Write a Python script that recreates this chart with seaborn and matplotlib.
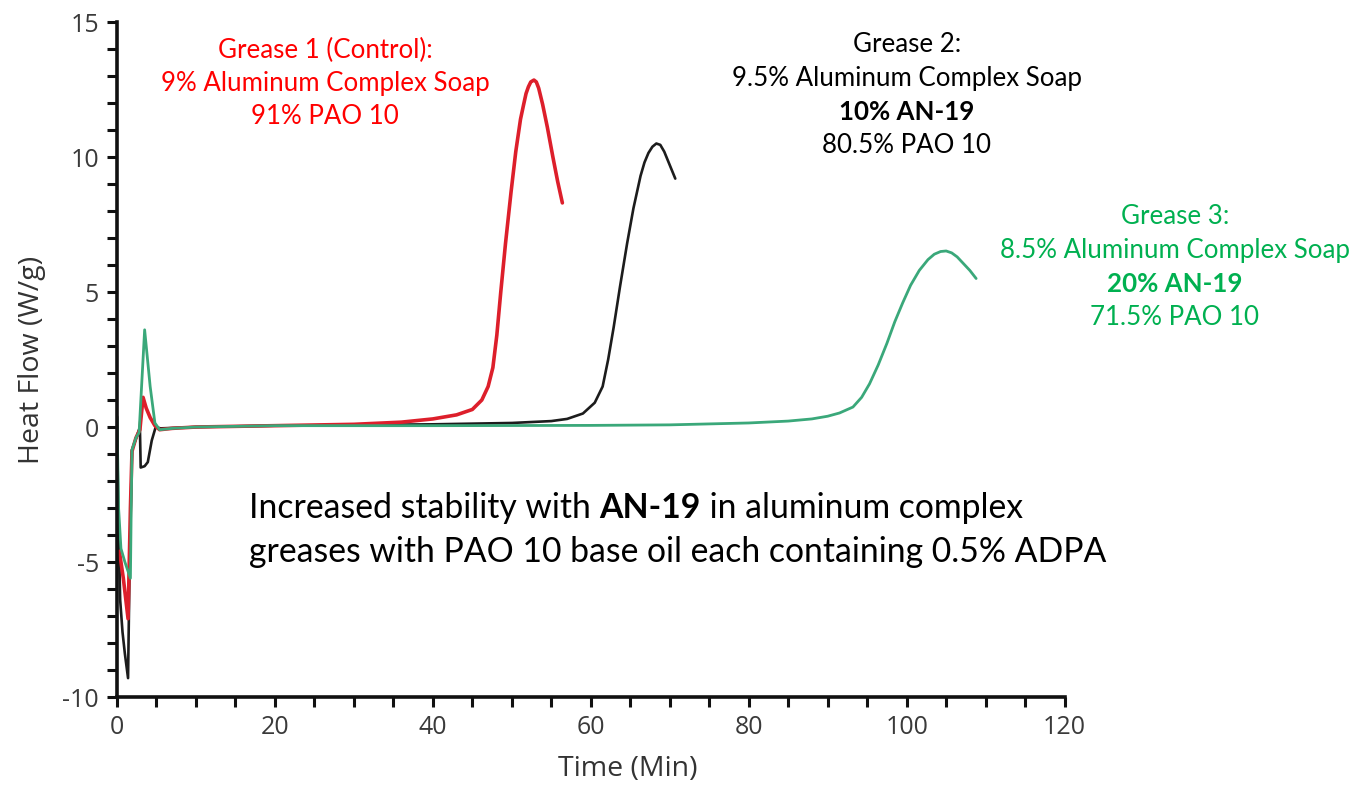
import matplotlib
matplotlib.use('Agg')
import matplotlib.pyplot as plt
import pandas as pd
import seaborn as sns
from matplotlib.ticker import MultipleLocator

# Data (time in min, heat flow in W/g)
g1_time = [0.3, 0.8, 1.4, 1.7, 1.9, 2.4, 2.9, 3.3, 3.7, 4.2, 4.8, 5.4, 7, 10, 20, 30, 36, 40, 43, 45,
           46.2, 47.0, 47.6, 48.1, 48.6, 49.2, 49.9, 50.5, 51.1, 51.5, 51.8, 52.1, 52.4, 52.8, 53.1,
           53.4, 53.9, 54.5, 55.2, 55.8, 56.4]
g1_flow = [-4.6, -5.6, -7.1, -3.0, -0.9, -0.4, -0.1, 1.1, 0.7, 0.35, 0.05, -0.1, -0.05, 0.0, 0.05,
           0.1, 0.18, 0.3, 0.45, 0.65, 1.0, 1.5, 2.2, 3.4, 5.0, 6.8, 8.7, 10.2, 11.4, 11.95, 12.35,
           12.6, 12.78, 12.85, 12.78, 12.55, 11.95, 11.1, 10.0, 9.1, 8.3]

g2_time = [0.0, 0.15, 0.4, 0.7, 1.0, 1.4, 1.6, 1.9, 2.5, 2.9, 3.0, 3.5, 3.9, 4.4, 4.9, 5.5, 10, 20,
           40, 50, 55, 57, 59, 60.5, 61.5, 62.2, 62.9, 63.7, 64.6, 65.4, 66.3, 66.8, 67.3, 67.8,
           68.3, 68.8, 69.3, 70.0, 70.7]
g2_flow = [0.4, -3.0, -6.4, -7.6, -8.4, -9.3, -5.0, -0.85, -0.35, 0.0, -1.5, -1.45, -1.3, -0.5, 0.0,
           -0.05, 0.0, 0.05, 0.1, 0.15, 0.22, 0.3, 0.5, 0.9, 1.5, 2.5, 3.7, 5.2, 6.8, 8.1, 9.3,
           9.8, 10.15, 10.38, 10.5, 10.45, 10.2, 9.7, 9.2]

g3_time = [0.0, 0.2, 0.5, 1.0, 1.7, 1.8, 1.9, 2.4, 2.8, 3.5, 4.2, 4.8, 5.4, 7, 10, 20, 40, 60, 70,
           80, 85, 88, 90, 91.5, 93.2, 94.3, 95.3, 96.4, 97.5, 98.5, 99.5, 100.5, 101.6, 102.7,
           103.5, 104.3, 105.0, 105.7, 106.4, 107.2, 108.0, 108.8]
g3_flow = [0.35, -3.0, -4.5, -5.0, -5.6, -3.0, -0.85, -0.4, -0.2, 3.6, 1.5, 0.15, -0.1, -0.05, 0.0,
           0.05, 0.05, 0.06, 0.08, 0.15, 0.22, 0.3, 0.4, 0.52, 0.74, 1.1, 1.6, 2.3, 3.1, 3.9, 4.6,
           5.25, 5.8, 6.2, 6.4, 6.5, 6.52, 6.45, 6.3, 6.05, 5.8, 5.5]

line_colors = {'Grease 1': '#dd1f2b', 'Grease 2': '#1c1c1c', 'Grease 3': '#3aa87a'}
text_red, text_green = '#ff0000', '#00b050'

df = pd.concat([
    pd.DataFrame({'time': g2_time, 'flow': g2_flow, 'grease': 'Grease 2'}),
    pd.DataFrame({'time': g1_time, 'flow': g1_flow, 'grease': 'Grease 1'}),
    pd.DataFrame({'time': g3_time, 'flow': g3_flow, 'grease': 'Grease 3'}),
])

sns.set_style('ticks')
plt.rcParams['font.family'] = ['Open Sans', 'DejaVu Sans']
plt.rcParams['axes.unicode_minus'] = False

fig = plt.figure(figsize=(13.51, 7.86), dpi=100)
ax = fig.add_axes([0.0866, 0.1132, 0.7014, 0.8588])

for name, lw in [('Grease 2', 1.9), ('Grease 1', 2.6), ('Grease 3', 2.0)]:
    sub = df[df['grease'] == name]
    sns.lineplot(data=sub, x='time', y='flow', ax=ax, color=line_colors[name], lw=lw,
                 sort=False, estimator=None)

ax.set_xlim(0, 120)
ax.set_ylim(-10, 15)
ax.xaxis.set_major_locator(MultipleLocator(20))
ax.xaxis.set_minor_locator(MultipleLocator(5))
ax.yaxis.set_major_locator(MultipleLocator(5))
ax.yaxis.set_minor_locator(MultipleLocator(1))
ax.tick_params(which='both', length=7, width=2.2, color='#111111', labelsize=18,
               labelcolor='#3a3a3a', pad=6)
for s in ['left', 'bottom']:
    ax.spines[s].set_linewidth(2.6)
    ax.spines[s].set_color('#111111')
sns.despine(ax=ax)
ax.set_xlabel('Time (Min)', fontsize=20.5, color='#333333')
ax.set_ylabel('Heat Flow (W/g)', fontsize=20.5, color='#333333', labelpad=12)
ax.xaxis.set_label_coords(0.539, -0.086)

# annotations
note_font = ['Lato', 'DejaVu Sans']
fs = 18.6
lh = 33.5 / 786
for i, (t, c, w) in enumerate([('Grease 1 (Control):', text_red, 'normal'),
                               ('9% Aluminum Complex Soap', text_red, 'normal'),
                               ('91% PAO 10', text_red, 'normal')]):
    fig.text(325 / 1351, 1 - 50 / 786 - i * lh, t, color=c, fontsize=fs, fontweight=w,
             ha='center', va='center', family=note_font)
for i, (t, w) in enumerate([('Grease 2:', 'normal'), ('9.5% Aluminum Complex Soap', 'normal'),
                            ('10% AN-19', 'bold'), ('80.5% PAO 10', 'normal')]):
    fig.text(907 / 1351, 1 - 45 / 786 - i * lh, t, color='black', fontsize=fs, fontweight=w,
             ha='center', va='center', family=note_font)
for i, (t, w) in enumerate([('Grease 3:', 'normal'), ('8.5% Aluminum Complex Soap', 'normal'),
                            ('20% AN-19', 'bold'), ('71.5% PAO 10', 'normal')]):
    fig.text(1175 / 1351, 1 - 217 / 786 - i * lh, t, color=text_green, fontsize=fs, fontweight=w,
             ha='center', va='center', family=note_font)

# main note with a bold word, placed piece by piece
renderer = fig.canvas.get_renderer()
x0 = 249 / 1351
note_fs = 24.3
pieces = [('Increased stability with ', 'normal'), ('AN-19', 'bold'),
          (' in aluminum complex', 'normal')]
x = x0
for t, w in pieces:
    txt = fig.text(x, 1 - 508 / 786, t, fontsize=note_fs, fontweight=w, color='black',
                   ha='left', va='center', family=note_font)
    x += txt.get_window_extent(renderer).width / fig.bbox.width
fig.text(x0, 1 - 552 / 786, 'greases with PAO 10 base oil each containing 0.5% ADPA',
         fontsize=note_fs, color='black', ha='left', va='center', family=note_font)

fig.savefig('out.png', dpi=100)
